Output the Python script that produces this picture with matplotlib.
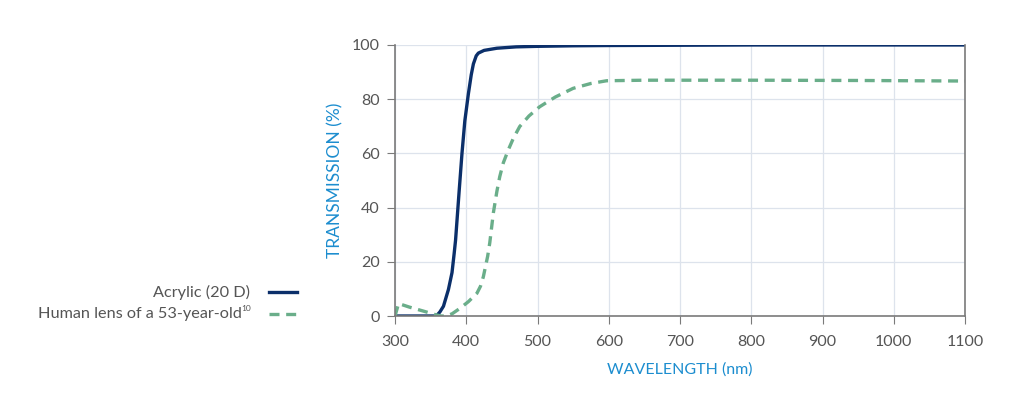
import matplotlib
matplotlib.use("Agg")
import matplotlib.pyplot as plt
from matplotlib.lines import Line2D

plt.rcParams['font.family'] = ['Lato', 'DejaVu Sans']

# valores
nm_acrilico = [300, 350, 358, 363, 368, 375, 380, 383, 385, 390, 394, 398, 403, 407, 410,
               414, 417, 425, 443, 470, 500, 550, 600, 700, 800, 900, 1000, 1100]
tr_acrilico = [0, 0, 0, 1.5, 3.6, 9.8, 16, 23, 28, 46, 60, 72, 82, 89, 93,
               96, 97, 98, 98.8, 99.3, 99.5, 99.7, 99.8, 99.9, 100, 100, 100, 100]

nm_cristalino = [300, 305, 320, 340, 358, 365, 372, 380, 391, 403, 415, 420, 424, 430, 433,
                 438, 443, 447, 452, 459, 466, 475, 488, 503, 525, 550, 575, 597, 650,
                 800, 950, 1100]
tr_cristalino = [0, 4.6, 3.3, 1.8, 0.4, 0, 0, 0.8, 2.8, 5.3, 8.4, 11, 14.5, 22, 27,
                 38, 46, 51.4, 56.5, 61.3, 65.5, 69.9, 73.8, 77.2, 80.8, 84, 85.8, 86.8, 87,
                 87, 86.9, 86.7]

xticks = [300, 400, 500, 600, 700, 800, 900, 1000, 1100]
yticks = [0, 20, 40, 60, 80, 100]

c_acrilico = '#0b2f6a'
c_cristalino = '#6aae8a'
c_titulo = '#1c8dcf'
c_texto = '#555555'
guiones = (0, (3.0, 2.0))

fig = plt.figure(figsize=(10.30, 3.98), dpi=100)
ax = fig.add_axes([0.3835, 0.206, 0.5534, 0.681])

ax.plot(nm_acrilico, tr_acrilico, color=c_acrilico, lw=2.4, solid_capstyle='round',
        solid_joinstyle='round')
ax.plot(nm_cristalino, tr_cristalino, color=c_cristalino, lw=2.4, ls=guiones)

ax.set_xlim(300, 1100)
ax.set_ylim(0, 100)
ax.set_xticks(xticks)
ax.set_yticks(yticks)
ax.grid(True, color='#dde3ec', lw=0.9)
ax.set_axisbelow(True)

for lado in ['left', 'bottom', 'right']:
    ax.spines[lado].set_color('#7a7a7a')
    ax.spines[lado].set_linewidth(1.2)
ax.spines['top'].set_visible(False)

ax.tick_params(axis='both', colors='#7a7a7a', labelcolor=c_texto, labelsize=11.5, length=6)
ax.tick_params(axis='y', pad=5)
ax.tick_params(axis='x', pad=8)

ax.set_ylabel('TRANSMISSION (%)', color=c_titulo, fontsize=12.5, labelpad=6)
ax.set_xlabel('WAVELENGTH (nm)', color=c_titulo, fontsize=11.5, labelpad=9)

# leyenda manual a la izquierda
fig.text(0.2425, 0.266, 'Acrylic (20 D)', ha='right', va='center', fontsize=11.7, color=c_texto)
fig.text(0.2345, 0.211, 'Human lens of a 53-year-old', ha='right', va='center',
         fontsize=11.7, color=c_texto)
fig.text(0.2345, 0.225, '10', ha='left', va='center', fontsize=6, color=c_texto)
fig.add_artist(Line2D([0.261, 0.288], [0.266, 0.266], color=c_acrilico, lw=2.4,
                      transform=fig.transFigure))
fig.add_artist(Line2D([0.261, 0.288], [0.211, 0.211], color=c_cristalino, lw=2.4,
                      ls=guiones, transform=fig.transFigure))

plt.savefig('out.png', dpi=100)
